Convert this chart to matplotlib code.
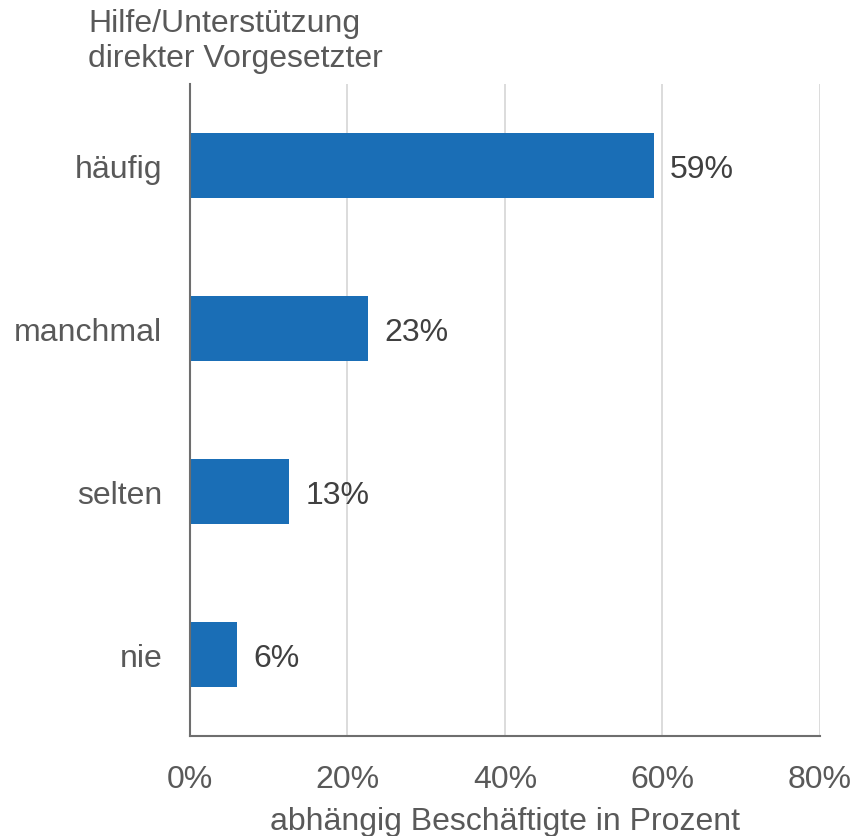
import matplotlib
matplotlib.use("Agg")
import matplotlib.pyplot as plt
from matplotlib.ticker import FuncFormatter

plt.rcParams['font.family'] = ['Liberation Sans', 'DejaVu Sans']

# data (bar lengths, labels are rounded)
categories = ['häufig', 'manchmal', 'selten', 'nie']
values = [58.9, 22.6, 12.6, 6.0]
xticks = [0, 20, 40, 60, 80]

bar_color = '#1a6eb6'
tick_color = '#595959'
label_color = '#404040'
fs = 23

fig = plt.figure(figsize=(8.54, 8.37), dpi=100)
ax = fig.add_axes([0.2225, 0.1195, 0.7375, 0.779])

ypos = list(range(len(categories)))
ax.barh(ypos, values, height=0.4, color=bar_color, zorder=3)
ax.set_ylim(len(categories) - 0.5, -0.5)
ax.set_xlim(0, 80)

ax.set_yticks(ypos)
ax.set_yticklabels(categories)
ax.set_xticks(xticks)
ax.xaxis.set_major_formatter(FuncFormatter(lambda v, p: f'{v:.0f}%'))
ax.tick_params(axis='y', length=0, pad=20, labelsize=fs, labelcolor=tick_color)
ax.tick_params(axis='x', length=0, pad=20, labelsize=fs, labelcolor=tick_color)

ax.grid(axis='x', color='#d9d9d9', linewidth=1.3, zorder=0)
for s in ['top', 'right']:
    ax.spines[s].set_visible(False)
ax.spines['left'].set_color('#6e6e6e')
ax.spines['left'].set_linewidth(1.5)
ax.spines['bottom'].set_color('#6e6e6e')
ax.spines['bottom'].set_linewidth(1.5)
ax.spines['left'].set_zorder(4)

for y, v in zip(ypos, values):
    ax.annotate(f'{round(v)}%', (v, y), xytext=(16, 0), textcoords='offset pixels',
                va='center_baseline', ha='left', fontsize=fs, color=label_color)

ax.set_xlabel('abhängig Beschäftigte in Prozent', fontsize=fs,
              color=tick_color, labelpad=9)

fig.text(88 / 854, 1 - 9 / 837, 'Hilfe/Unterstützung\ndirekter Vorgesetzter',
         ha='left', va='top', fontsize=fs, color=tick_color, linespacing=1.2)

fig.savefig('out.png', dpi=100)
